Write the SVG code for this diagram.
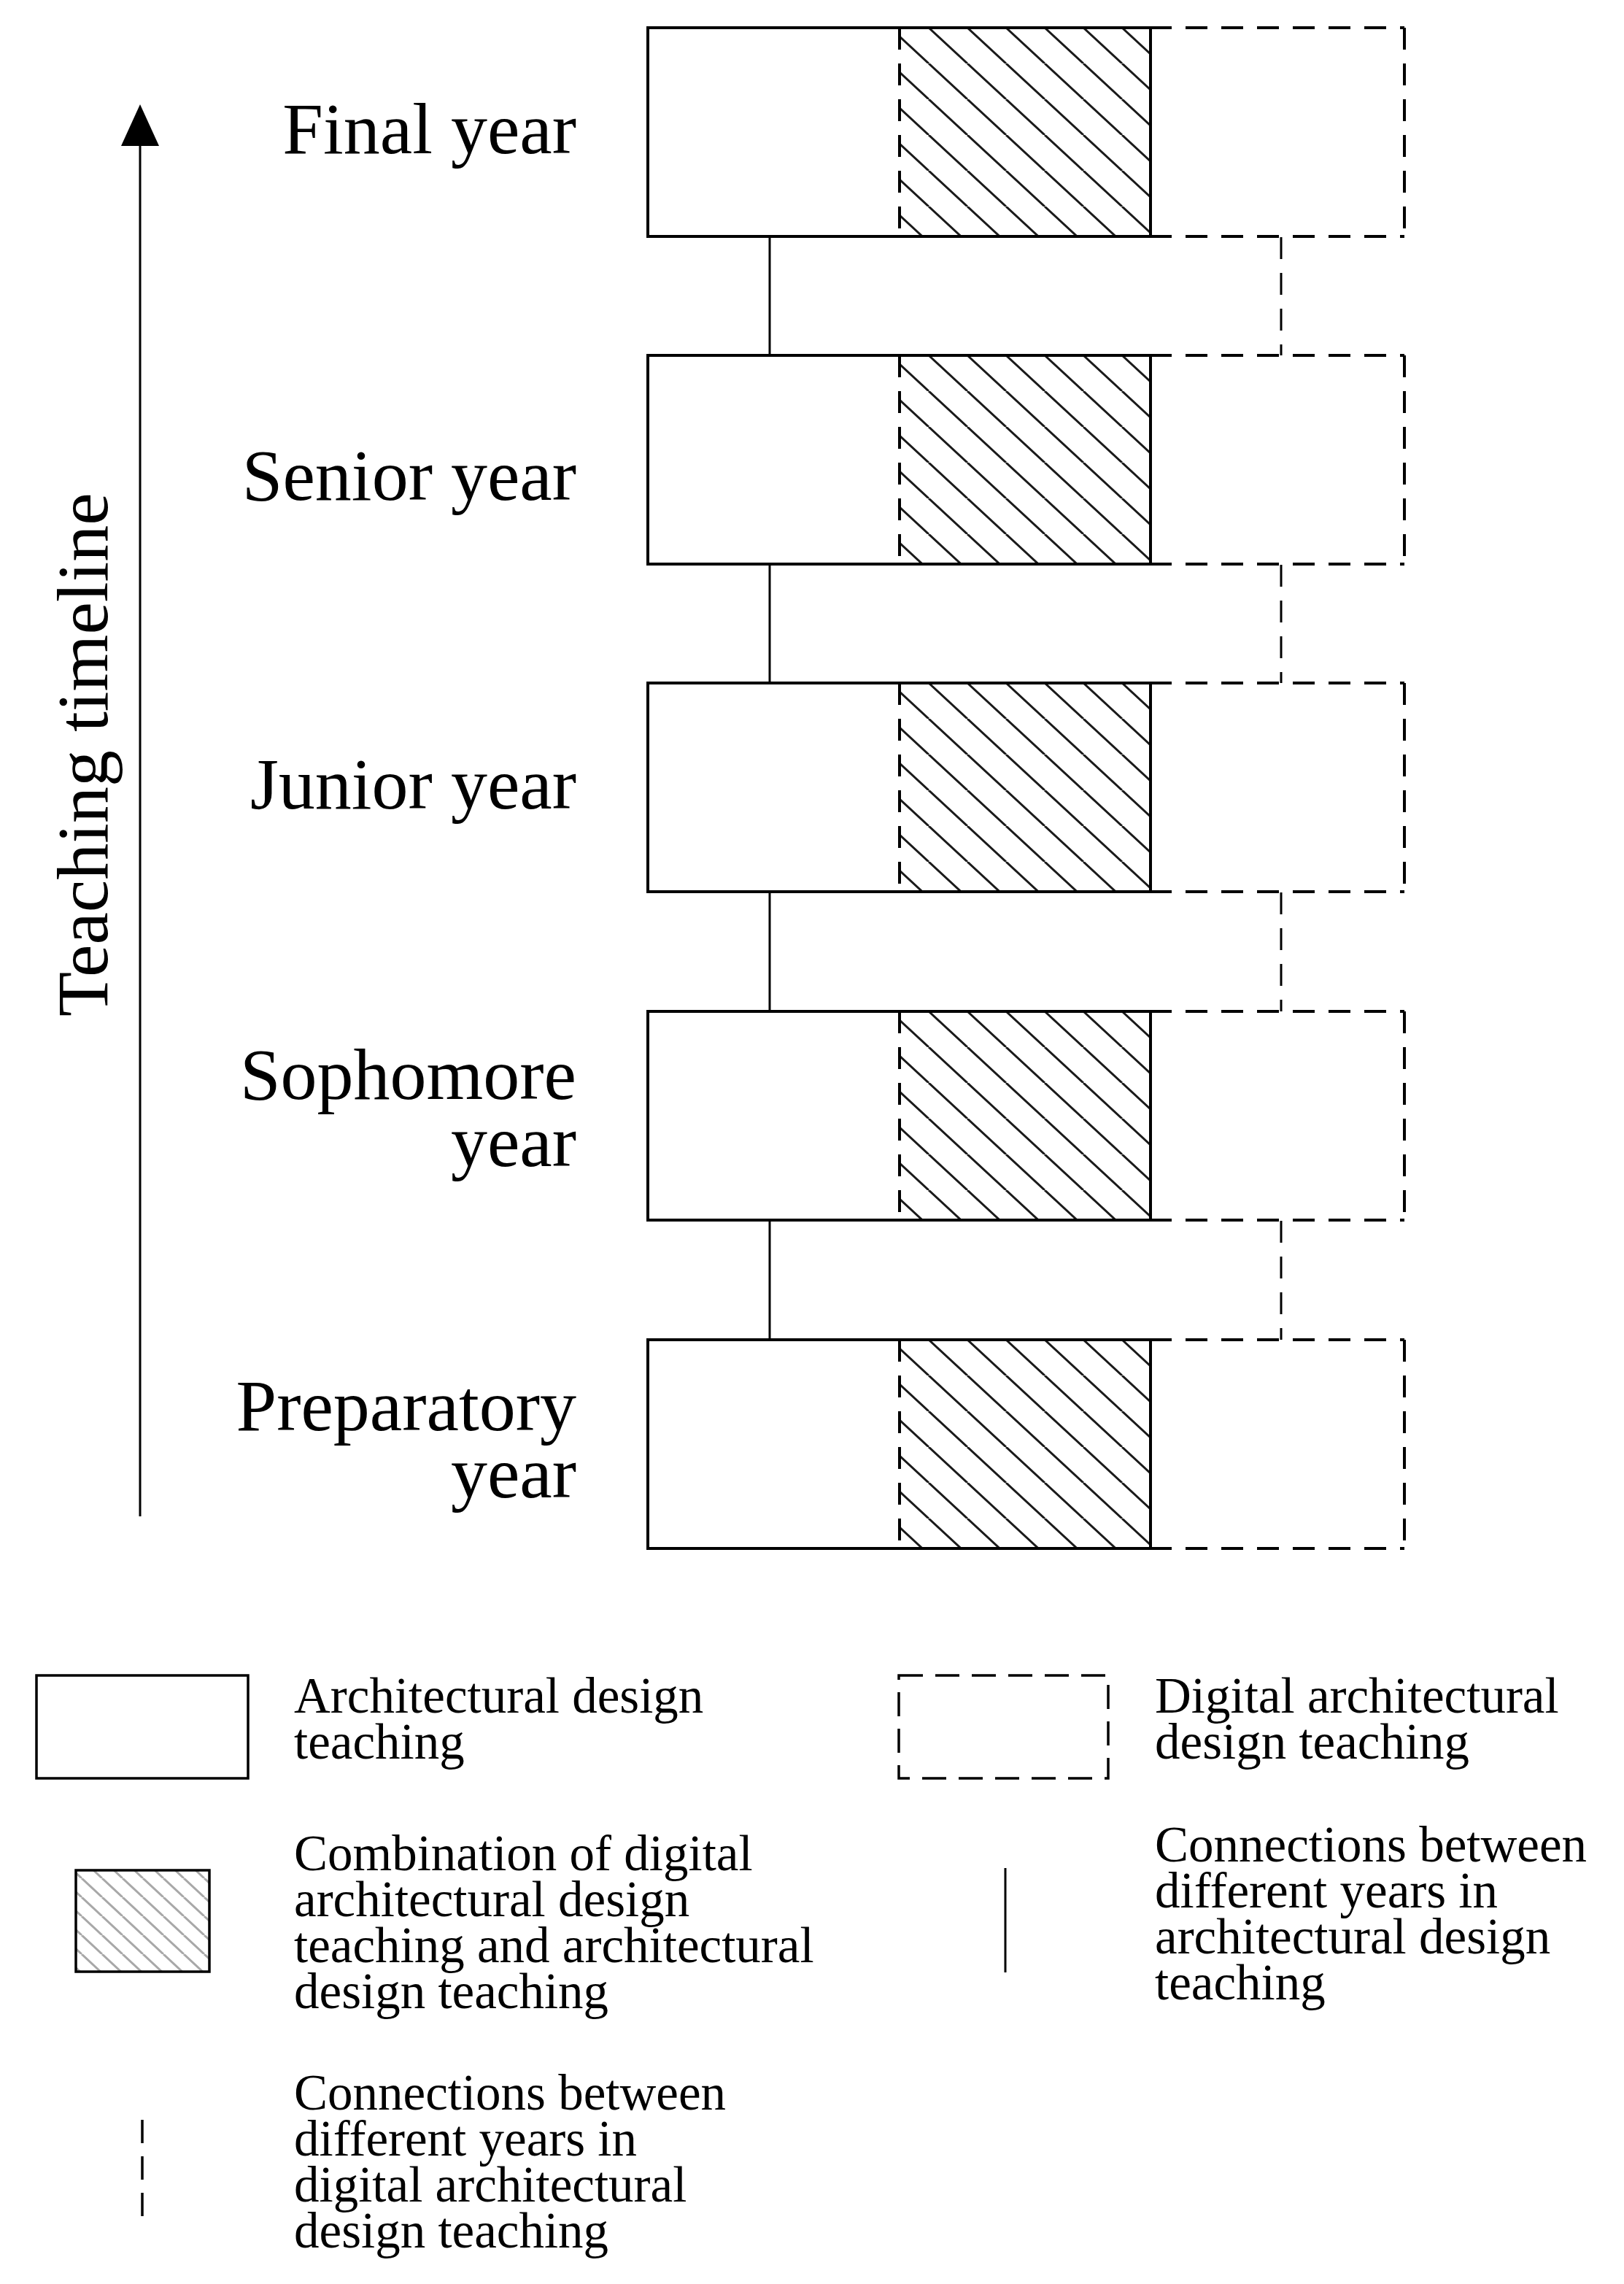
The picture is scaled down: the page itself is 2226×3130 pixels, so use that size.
<svg xmlns="http://www.w3.org/2000/svg" width="2226" height="3130" viewBox="0 0 2226 3130">
<style>
  .lbl{font-family:"Liberation Serif","Times New Roman",serif;font-size:100px;fill:#000;text-anchor:end}
  .leg{font-family:"Liberation Serif","Times New Roman",serif;font-size:69px;fill:#000}
  .solid{fill:none;stroke:#000;stroke-width:4}
  .dash{fill:none;stroke:#000;stroke-width:4;stroke-dasharray:30 19}
  .conn{fill:none;stroke:#000;stroke-width:3}
  .connd{fill:none;stroke:#000;stroke-width:3;stroke-dasharray:30 19}
</style>
<defs>
  <pattern id="hatch" patternUnits="userSpaceOnUse" x="1" y="0" width="53" height="49">
    <path d="M0,0 L53,49 M-53,0 L0,49 M53,0 L106,49" stroke="#1a1a1a" stroke-width="3" fill="none"/>
  </pattern>
  <pattern id="hatchLeg" patternUnits="userSpaceOnUse" x="0" y="0" width="28" height="26">
    <path d="M0,0 L28,26 M-28,0 L0,26 M28,0 L56,26" stroke="#a8a8a8" stroke-width="3" fill="none"/>
  </pattern>
</defs>
<rect width="2226" height="3130" fill="#fff"/>

<!-- timeline axis -->
<g id="axis">
  <line x1="192" y1="2078" x2="192" y2="196" stroke="#000" stroke-width="3"/>
  <polygon points="192,143 166,200 218,200" fill="#000"/>
  <text class="leg" style="font-size:100px" transform="translate(147,1393) rotate(-90)">Teaching timeline</text>
</g>

<!-- connectors -->
<g id="connectors">
  <line class="conn" x1="1055" y1="325" x2="1055" y2="487"/>
  <line class="conn" x1="1055" y1="774" x2="1055" y2="936"/>
  <line class="conn" x1="1055" y1="1223" x2="1055" y2="1386"/>
  <line class="conn" x1="1055" y1="1673" x2="1055" y2="1836"/>
  <line class="connd" x1="1756" y1="325" x2="1756" y2="487"/>
  <line class="connd" x1="1756" y1="774" x2="1756" y2="936"/>
  <line class="connd" x1="1756" y1="1223" x2="1756" y2="1386"/>
  <line class="connd" x1="1756" y1="1673" x2="1756" y2="1836"/>
</g>

<g id="final-year" transform="translate(0,38)">
  <rect x="1233" y="0" width="344" height="286" fill="url(#hatch)"/>
  <line class="dash" x1="1233" y1="0" x2="1925" y2="0"/>
  <line class="dash" x1="1925" y1="0" x2="1925" y2="286"/>
  <line class="dash" x1="1233" y1="286" x2="1925" y2="286"/>
  <line class="dash" x1="1233" y1="0" x2="1233" y2="286"/>
  <rect class="solid" x="888" y="0" width="689" height="286"/>
  <text class="lbl" x="790" y="172">Final year</text>
</g>

<g id="senior-year" transform="translate(0,487)">
  <rect x="1233" y="0" width="344" height="286" fill="url(#hatch)"/>
  <line class="dash" x1="1233" y1="0" x2="1925" y2="0"/>
  <line class="dash" x1="1925" y1="0" x2="1925" y2="286"/>
  <line class="dash" x1="1233" y1="286" x2="1925" y2="286"/>
  <line class="dash" x1="1233" y1="0" x2="1233" y2="286"/>
  <rect class="solid" x="888" y="0" width="689" height="286"/>
  <text class="lbl" x="790" y="198">Senior year</text>
</g>

<g id="junior-year" transform="translate(0,936)">
  <rect x="1233" y="0" width="344" height="286" fill="url(#hatch)"/>
  <line class="dash" x1="1233" y1="0" x2="1925" y2="0"/>
  <line class="dash" x1="1925" y1="0" x2="1925" y2="286"/>
  <line class="dash" x1="1233" y1="286" x2="1925" y2="286"/>
  <line class="dash" x1="1233" y1="0" x2="1233" y2="286"/>
  <rect class="solid" x="888" y="0" width="689" height="286"/>
  <text class="lbl" x="790" y="172">Junior year</text>
</g>

<g id="sophomore-year" transform="translate(0,1386)">
  <rect x="1233" y="0" width="344" height="286" fill="url(#hatch)"/>
  <line class="dash" x1="1233" y1="0" x2="1925" y2="0"/>
  <line class="dash" x1="1925" y1="0" x2="1925" y2="286"/>
  <line class="dash" x1="1233" y1="286" x2="1925" y2="286"/>
  <line class="dash" x1="1233" y1="0" x2="1233" y2="286"/>
  <rect class="solid" x="888" y="0" width="689" height="286"/>
  <text class="lbl" x="790" y="120">Sophomore</text>
  <text class="lbl" x="790" y="212">year</text>
</g>

<g id="preparatory-year" transform="translate(0,1836)">
  <rect x="1233" y="0" width="344" height="286" fill="url(#hatch)"/>
  <line class="dash" x1="1233" y1="0" x2="1925" y2="0"/>
  <line class="dash" x1="1925" y1="0" x2="1925" y2="286"/>
  <line class="dash" x1="1233" y1="286" x2="1925" y2="286"/>
  <line class="dash" x1="1233" y1="0" x2="1233" y2="286"/>
  <rect class="solid" x="888" y="0" width="689" height="286"/>
  <text class="lbl" x="790" y="124">Preparatory</text>
  <text class="lbl" x="790" y="216">year</text>
</g>

<!-- legend -->
<g id="legend-arch">
  <rect x="50" y="2296" width="290" height="141" fill="none" stroke="#000" stroke-width="3.5"/>
  <text class="leg" x="403" y="2347">Architectural design</text>
  <text class="leg" x="403" y="2410">teaching</text>
</g>
<g id="legend-digital">
  <rect x="1232" y="2296" width="287" height="141" fill="none" stroke="#000" stroke-width="3.5" stroke-dasharray="33 17"/>
  <text class="leg" x="1583" y="2347">Digital architectural</text>
  <text class="leg" x="1583" y="2410">design teaching</text>
</g>
<g id="legend-combination">
  <rect x="104" y="2563" width="183" height="139" fill="url(#hatchLeg)" stroke="#000" stroke-width="3.5"/>
  <text class="leg" x="403" y="2563">Combination of digital</text>
  <text class="leg" x="403" y="2626">architectural design</text>
  <text class="leg" x="403" y="2689">teaching and architectural</text>
  <text class="leg" x="403" y="2752">design teaching</text>
</g>
<g id="legend-solid-conn">
  <line x1="1378" y1="2560" x2="1378" y2="2703" stroke="#000" stroke-width="3"/>
  <text class="leg" x="1583" y="2551">Connections between</text>
  <text class="leg" x="1583" y="2614">different years in</text>
  <text class="leg" x="1583" y="2677">architectural design</text>
  <text class="leg" x="1583" y="2740">teaching</text>
</g>
<g id="legend-dashed-conn">
  <line x1="195" y1="2905" x2="195" y2="3037" stroke="#000" stroke-width="3.5" stroke-dasharray="32 18"/>
  <text class="leg" x="403" y="2891">Connections between</text>
  <text class="leg" x="403" y="2954">different years in</text>
  <text class="leg" x="403" y="3017">digital architectural</text>
  <text class="leg" x="403" y="3080">design teaching</text>
</g>
</svg>
